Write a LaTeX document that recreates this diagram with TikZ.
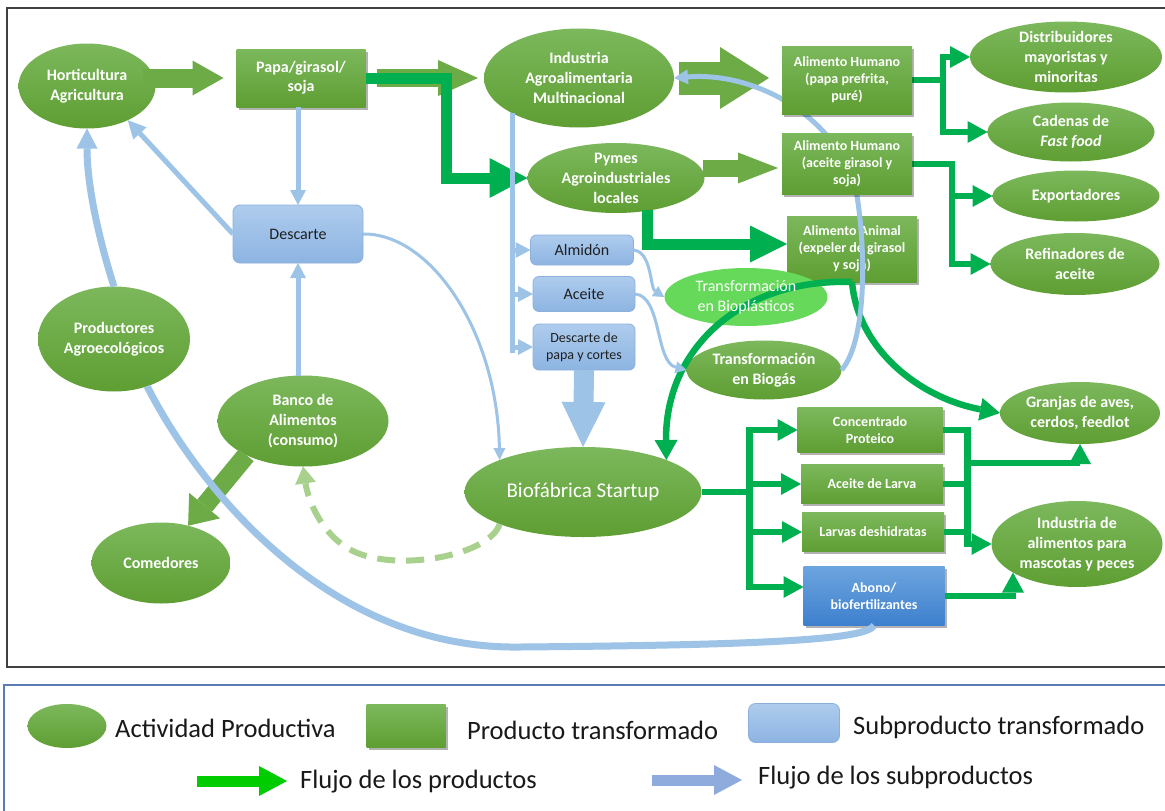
\documentclass[tikz,border=0pt]{standalone}
\usepackage{fontspec}
\setmainfont{Carlito}
\usetikzlibrary{arrows.meta,shapes.geometric,shadows,calc}
\definecolor{gtop}{RGB}{124,184,92}
\definecolor{gbot}{RGB}{94,158,50}
\definecolor{dgreen}{RGB}{0,176,80}
\definecolor{bgreen}{RGB}{108,171,69}
\definecolor{lblue}{RGB}{157,195,230}
\definecolor{btop}{RGB}{174,204,237}
\definecolor{bbot}{RGB}{141,180,226}
\definecolor{bborder}{RGB}{140,176,220}
\definecolor{atop}{RGB}{108,164,222}
\definecolor{abot}{RGB}{62,128,206}
\definecolor{bioplas}{RGB}{102,217,90}
\definecolor{dashg}{RGB}{169,209,142}
\definecolor{framegray}{RGB}{64,64,64}
\definecolor{legblue}{RGB}{91,123,181}
\definecolor{legarrowg}{RGB}{0,204,0}
\definecolor{legarrowb}{RGB}{143,170,220}
\pgfdeclarelayer{front}
\pgfsetlayers{main,front}
\begin{document}
\begin{tikzpicture}[x=1pt,y=-1pt,
 ell/.style={ellipse, top color=gtop, bottom color=gbot, draw=none, inner sep=0pt, outer sep=0pt},
 elab/.style={text=white, font=\bfseries\fontsize{16}{20}\selectfont, align=center, inner sep=0pt},
 gbox/.style={rectangle, top color=gtop, bottom color=gbot, draw=none, inner sep=0pt, outer sep=0pt, text=white, align=center, font=\bfseries\fontsize{14}{17}\selectfont, drop shadow={shadow xshift=2pt, shadow yshift=-2.5pt, opacity=0.3, fill=black}},
 bbox/.style={rectangle, rounded corners=6pt, top color=btop, bottom color=bbot, draw=bborder, line width=0.8pt, inner sep=0pt, outer sep=0pt, text=black!88, align=center, font=\fontsize{16}{19}\selectfont},
 barr/.style n args={4}{draw=#1, line width=#2, -{Triangle[length=#3, width=#4, line width=0pt]}},
 gline/.style={draw=dgreen, line width=6.5pt},
 garr/.style={gline, -{Triangle[length=20pt, width=22pt, line width=0pt]}},
 bline/.style={draw=lblue, line width=#1},
 btip/.style 2 args={-{Triangle[length=#1, width=#2, line width=0pt]}},
 ltxt/.style={anchor=west, inner sep=0pt, text=black!90, font=\fontsize{26.5}{30}\selectfont}
]
\useasboundingbox (0,0) rectangle (1165,811);
\fill[white] (0,0) rectangle (1165,811);
\draw[framegray, line width=1.5pt] (7,8) rectangle (1175,667);
\draw[legblue, line width=1.3pt] (4,685) rectangle (1175,820);

% ---------- nodes ----------
\node[ell, minimum width=137pt, minimum height=85pt, label={[elab]center:{Horticultura\\Agricultura}}] (hort) at (87,86) {};
\node[gbox, minimum width=129pt, minimum height=58pt, font=\bfseries\fontsize{16}{19}\selectfont] (papa) at (301,78) {Papa/girasol/\\soja};
\node[ell, minimum width=190pt, minimum height=99pt, label={[elab]center:{Industria\\Agroalimentaria\\Multinacional}}] (ind) at (579,78) {};
\node[ell, minimum width=177pt, minimum height=70pt, label={[elab]center:{Pymes\\Agroindustriales\\locales}}] (pym) at (616,178) {};
\begin{pgfonlayer}{front}
\node[gbox, minimum width=130pt, minimum height=68pt] (ah1) at (847,80) {Alimento Humano\\(papa prefrita,\\puré)};
\node[gbox, minimum width=130pt, minimum height=61pt] (ah2) at (847,164) {Alimento Humano\\(aceite girasol y\\soja)};
\end{pgfonlayer}
\node[gbox, minimum width=130pt, minimum height=66pt] (aa) at (852,249) {Alimento Animal\\(expeler de girasol\\y soja)};
\node[ell, minimum width=192pt, minimum height=71pt, label={[elab]center:{Distribuidores\\mayoristas y\\minoritas}}] (dist) at (1066,57) {};
\node[ell, minimum width=167pt, minimum height=59pt, label={[elab]center:{Cadenas de\\\textit{Fast food}}}] (cad) at (1071,132) {};
\node[ell, minimum width=167pt, minimum height=51pt, label={[elab]center:{Exportadores}}] (exp) at (1076,196) {};
\node[ell, minimum width=169pt, minimum height=62pt, label={[elab]center:{Refinadores de\\aceite}}] (ref) at (1075,264) {};
\node[ellipse, fill=bioplas, draw=none, inner sep=0pt, minimum width=163pt, minimum height=58pt] (bioP) at (746,297) {};
\node[ell, minimum width=155pt, minimum height=59pt] (bioG) at (764,370) {};
\node[bbox, minimum width=103pt, minimum height=30pt] (alm) at (582,250) {Almidón};
\node[bbox, minimum width=102pt, minimum height=35pt] (ace) at (584,294) {Aceite};
\node[bbox, minimum width=102pt, minimum height=46pt, font=\fontsize{14}{17}\selectfont] (dpc) at (584,347) {Descarte de\\papa y cortes};
\node[ell, minimum width=237pt, minimum height=90pt, label={[elab, font=\fontsize{21}{24}\selectfont]center:{Biofábrica Startup}}] (bio) at (583,492) {};
\node[bbox, minimum width=130pt, minimum height=58pt, rounded corners=7pt] (desc) at (298,234) {Descarte};
\node[ell, minimum width=152pt, minimum height=105pt, label={[elab]center:{Productores\\Agroecológicos}}] (prod) at (114,339) {};
\node[ell, minimum width=171pt, minimum height=91pt, label={[elab]center:{Banco de\\Alimentos\\(consumo)}}] (banco) at (303,421) {};
\node[ell, minimum width=139pt, minimum height=81pt, label={[elab]center:{Comedores}}] (com) at (161,563) {};
\node[ell, minimum width=160pt, minimum height=62pt, label={[elab]center:{Granjas de aves,\\cerdos, feedlot}}] (gran) at (1080,413) {};
\node[ell, minimum width=171pt, minimum height=86pt, label={[elab]center:{Industria de\\alimentos para\\mascotas y peces}}] (ind2) at (1077,544) {};
\node[gbox, minimum width=145pt, minimum height=45pt] (conc) at (870,430) {Concentrado\\Proteico};
\node[gbox, minimum width=142pt, minimum height=39pt] (acl) at (872,484) {Aceite de Larva};
\node[gbox, minimum width=142pt, minimum height=39pt] (larv) at (873,532) {Larvas deshidratas};
\node[gbox, top color=atop, bottom color=abot, minimum width=141pt, minimum height=59pt] (abono) at (874,596) {Abono/\\biofertilizantes};

% ---------- block arrows ----------
\draw[barr={bgreen}{19pt}{31pt}{35pt}, shorten <=56pt, shorten >=13pt] (hort.center |- papa.west) -- (papa.west);
\draw[barr={bgreen}{18pt}{40pt}{36pt}, shorten <=11pt, shorten >=6pt] (papa.east) -- (ind.west);
\draw[barr={bgreen}{33pt}{49pt}{62pt}, shorten <=5pt, shorten >=13pt] (ind.east) -- (ind.east -| ah1.west);
\coordinate (a2) at ([yshift=-4pt]ah2.west);
\draw[barr={bgreen}{17pt}{40pt}{31pt}, shorten <=-2pt, shorten >=4pt] (a2 -| pym.east) -- (a2);
\draw[barr={bgreen}{19pt}{26pt}{40pt}] (banco.211) -- (com.54);

% ---------- dark green product flows ----------
\draw[draw=dgreen, line width=11pt, -{Triangle[length=38pt, width=40pt, line width=0pt]}] (papa.east) -- ++(81,0) |- (pym.west);
\draw[draw=dgreen, line width=11pt, -{Triangle[length=37pt, width=37pt, line width=0pt]}] ($(pym.south)+(31,-3)$) |- ([yshift=5pt]aa.west);
\draw[garr] (ah1.east) -- ++(31,0) |- (dist.west);
\draw[garr] (ah1.east) -- ++(31,0) |- (cad.west);
\draw[garr] (ah2.east) -- ++(40,0) |- (exp.west);
\draw[garr] (ah2.east) -- ++(40,0) |- (ref.west);
\draw[gline, -{Triangle[length=20pt, width=23pt, line width=0pt]}] (aa.south) .. controls (740,278) and (665,350) .. (bio.21);
\draw[gline, -{Triangle[length=20pt, width=23pt, line width=0pt]}] (aa.south) .. controls (858,350) and (920,398) .. (gran.west);
\draw[gline] (bio.east) -- ++(48,0) coordinate (bj);
\draw[garr] (bj) |- (conc.west);
\draw[garr] (bj) |- (acl.west);
\draw[garr] (bj) |- (larv.west);
\draw[garr] (bj) |- ([yshift=9pt]abono.west);
\draw[garr] (conc.east) -- ++(25,0) coordinate (cj) -- ++(0,33) -| (gran.south);
\draw[gline] (acl.east) -- (cj |- acl.east);
\draw[gline] (larv.east) -- (cj |- larv.east);
\draw[garr] (cj) |- (ind2.west);
\draw[garr] (abono.east) -| (ind2.204);

% ---------- light blue by-product flows ----------
\coordinate (vtop) at ($(ind.center)+(-67,35)$);
\draw[bline=5pt] (vtop) -- ++(0,240);
\draw[bline=5pt, btip={15pt}{16pt}] (vtop |- alm.west) -- (alm.west);
\draw[bline=5pt, btip={15pt}{16pt}] (vtop |- ace.west) -- (ace.west);
\draw[bline=5pt, btip={15pt}{16pt}] (vtop |- dpc.west) -- (dpc.west);
\draw[bline=3pt, btip={11pt}{12pt}] (alm.east) .. controls (652,252) and (650,288) .. (bioP.west);
\draw[bline=3pt, btip={11pt}{12pt}] (ace.east) .. controls (662,296) and (655,362) .. (bioG.west);
\draw[barr={lblue}{20pt}{45pt}{44pt}] (dpc.south) -- (bio.north);
\draw[bline=3pt, btip={12pt}{12pt}] (desc.east) .. controls (430,233) and (497,330) .. (bio.159);
\draw[bline=5pt, btip={15pt}{16pt}] (papa.south -| desc.north) -- (desc.north);
\draw[bline=5pt, btip={15pt}{16pt}] (banco.north -| desc.south) -- (desc.south);
\draw[bline=5pt, btip={18pt}{18pt}] (desc.west) -- (hort.-40);
\draw[bline=7pt, btip={20pt}{21pt}] (prod.north) .. controls (96,230) and (87,180) .. (hort.south);
\draw[bline=7pt] (abono.south) .. controls (866,640) and (760,645) .. (520,647) .. controls (330,650) and (200,490) .. (prod.-55);
\draw[bline=5pt, btip={14pt}{15pt}] (bioG.east) .. controls (868,340) and (866,240) .. (855,185) .. controls (830,110) and (750,72) .. (ind.east);

% ---------- dashed return ----------
\draw[draw=dashg, line width=6pt, dash pattern=on 18pt off 11pt, -{Triangle[length=17pt, width=21pt, line width=0pt]}] (bio.201) .. controls (490,555) and (400,572) .. (355,552) .. controls (322,537) and (308,500) .. (banco.south);

% ---------- texts drawn over the crossing lines ----------
\begin{pgfonlayer}{front}
\node[elab, font=\fontsize{16}{20}\selectfont] (bioPt) at (bioP) {Transformación\\en Bioplásticos};
\node[elab] (bioGt) at (bioG) {Transformación\\en Biogás};
\end{pgfonlayer}

% ---------- legend ----------
\node[ell, minimum width=79pt, minimum height=44pt] (lg1) at (67,726) {};
\node[ltxt] (lt1) at (115,728) {Actividad Productiva};
\node[gbox, minimum width=79pt, minimum height=43pt] (lg2) at (406,726) {};
\node[ltxt] (lt2) at (467,730) {Producto transformado};
\node[bbox, minimum width=91pt, minimum height=39pt, rounded corners=7pt] (lg3) at (794,723) {};
\node[ltxt] (lt3) at (853,727) {Subproducto transformado};
\coordinate (la1) at (197,781);
\coordinate (la2) at (287,781);
\draw[barr={legarrowg}{11pt}{28pt}{30pt}] (la1) -- (la2);
\node[ltxt] (lt4) at (300,782) {Flujo de los productos};
\coordinate (lb1) at (652,780);
\coordinate (lb2) at (742,780);
\draw[barr={legarrowb}{11pt}{28pt}{30pt}] (lb1) -- (lb2);
\node[ltxt] (lt5) at (758,778) {Flujo de los subproductos};
\end{tikzpicture}
\end{document}
